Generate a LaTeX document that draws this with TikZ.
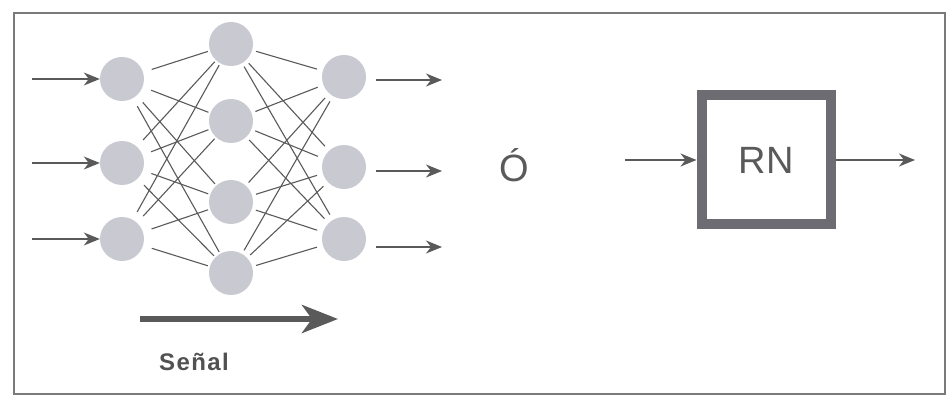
\documentclass[tikz,border=0pt]{standalone}
\usepackage{fontspec}
\setmainfont{Liberation Sans}
\usetikzlibrary{arrows.meta}
\definecolor{nodegray}{HTML}{C9C9D1}
\definecolor{linegray}{HTML}{5A5A5A}
\definecolor{framegray}{HTML}{7A7A7A}
\definecolor{boxgray}{HTML}{6C6C72}
\tikzset{
  neuron/.style={circle,fill=nodegray,minimum size=44pt,inner sep=0pt},
  link/.style={draw=linegray,line width=1.1pt,shorten <=9pt,shorten >=2pt},
  sig/.style={draw=linegray,line width=1.3pt,-{Stealth[length=16pt,width=13pt,inset=5pt]}},
  bigsig/.style={draw=linegray,line width=6pt,-{Stealth[length=36pt,width=28pt,inset=10pt]}},
}
\begin{document}
\begin{tikzpicture}[x=1pt,y=-1pt]
\useasboundingbox (0,0) rectangle (948,398);
\fill[white] (0,0) rectangle (948,398);
\draw[framegray,line width=2pt] (14,13) rectangle (945,394);
% input layer
\node[neuron] (i1) at (122,79) {};
\node[neuron] (i2) at (122,163) {};
\node[neuron] (i3) at (122,239) {};
% hidden layer
\node[neuron] (h1) at (231,44) {};
\node[neuron] (h2) at (231,121) {};
\node[neuron] (h3) at (231,202) {};
\node[neuron] (h4) at (231,273) {};
% output layer
\node[neuron] (o1) at (344,77) {};
\node[neuron] (o2) at (344,167) {};
\node[neuron] (o3) at (344,239) {};
% connections
\foreach \a in {i1,i2,i3}{\foreach \b in {h1,h2,h3,h4}{\draw[link] (\a) -- (\b);}}
\foreach \a in {h1,h2,h3,h4}{\foreach \b in {o1,o2,o3}{\draw[link,shorten <=4pt,shorten >=6pt] (\a) -- (\b);}}
% input arrows
\coordinate (in1) at (32,79);
\coordinate (in2) at (32,163);
\coordinate (in3) at (32,239);
\draw[sig] (in1) -- (i1);
\draw[sig] (in2) -- (i2);
\draw[sig] (in3) -- (i3);
% output arrows
\coordinate (out1s) at (376,80);  \coordinate (out1) at (442,80);
\coordinate (out2s) at (376,171); \coordinate (out2) at (442,171);
\coordinate (out3s) at (376,247); \coordinate (out3) at (442,247);
\draw[sig] (out1s) -- (out1);
\draw[sig] (out2s) -- (out2);
\draw[sig] (out3s) -- (out3);
% signal arrow
\coordinate (bs) at (140,319);
\coordinate (be) at (338,319);
\draw[bigsig] (bs) -- (be);
\node[text=linegray!90!black,font=\bfseries\fontsize{24}{26}\selectfont\addfontfeatures{LetterSpace=6}] (senal) at (194,362) {Señal};
% O
\node[text=linegray,font=\fontsize{38}{40}\selectfont,anchor=base,inner sep=0pt] (or) at (514,182) {Ó};
% RN box
\node[draw=boxgray,line width=10pt,minimum width=129pt,minimum height=129pt,inner sep=0pt,text=linegray,font=\fontsize{38}{40}\selectfont] (rn) at (766,160) {RN};
\coordinate (rnin) at (625,160);
\coordinate (rnout) at (915,160);
\draw[sig] (rnin) -- (rn.west);
\draw[sig] (rn.east) -- (rnout);
\end{tikzpicture}
\end{document}
